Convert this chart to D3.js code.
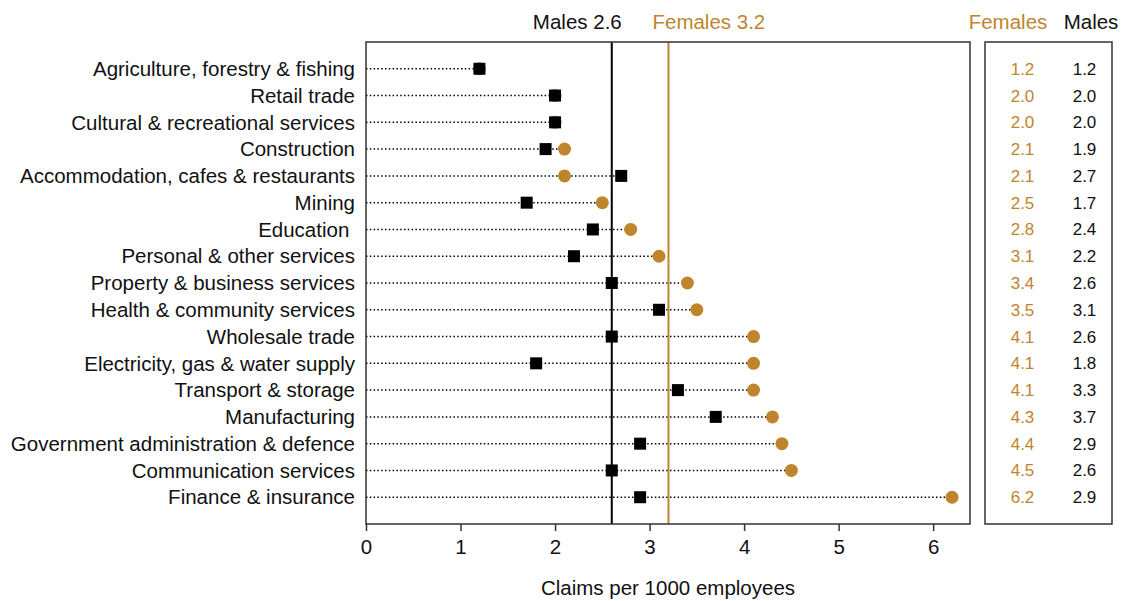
<!DOCTYPE html>
<html><head><meta charset="utf-8">
<script src="https://cdn.jsdelivr.net/npm/d3@7"></script>
<style>body{margin:0;background:#fff}svg{font-family:"Liberation Sans",Arial,sans-serif}</style>
</head><body><svg id="c" width="1121" height="601"></svg>
<script>
const categories = ["Agriculture, forestry & fishing","Retail trade","Cultural & recreational services","Construction","Accommodation, cafes & restaurants","Mining","Education ","Personal & other services","Property & business services","Health & community services","Wholesale trade","Electricity, gas & water supply","Transport & storage","Manufacturing","Government administration & defence","Communication services","Finance & insurance"];
const females = [1.2,2.0,2.0,2.1,2.1,2.5,2.8,3.1,3.4,3.5,4.1,4.1,4.1,4.3,4.4,4.5,6.2];
const males   = [1.2,2.0,2.0,1.9,2.7,1.7,2.4,2.2,2.6,3.1,2.6,1.8,3.3,3.7,2.9,2.6,2.9];
const avgMales = 2.6, avgFemales = 3.2;
const xTicks = [0,1,2,3,4,5,6];

const FC = "#BF852D", MC = "#000";
const FS = 20.5;
const svg = d3.select("#c");
const L = 366, R = 970, T = 42, B = 524;
const x = d3.scaleLinear().domain([0, 6.39]).range([L, R]);
const y = d3.scalePoint().domain(categories).range([T, B]).padding(1);

// category labels
svg.append("g").selectAll("text").data(categories).join("text")
  .attr("x", 355).attr("y", d => y(d)).attr("dy", "0.35em")
  .attr("text-anchor", "end").style("white-space","pre")
  .attr("font-size", FS).attr("fill", "#111").text(d => d);

// dotted lines
svg.append("g").selectAll("line").data(categories).join("line")
  .attr("x1", L).attr("x2", (d,i) => x(Math.max(females[i], males[i])))
  .attr("y1", d => y(d)).attr("y2", d => y(d))
  .attr("stroke", "#000").attr("stroke-width", 1.5).attr("stroke-dasharray", "1.5,2.3");

// reference lines
svg.append("line").attr("x1", x(avgMales)).attr("x2", x(avgMales)).attr("y1", T).attr("y2", B)
  .attr("stroke", MC).attr("stroke-width", 2);
svg.append("line").attr("x1", x(avgFemales)).attr("x2", x(avgFemales)).attr("y1", T).attr("y2", B)
  .attr("stroke", FC).attr("stroke-width", 2);
svg.append("text").attr("x", x(avgMales) + 10).attr("y", 29).attr("text-anchor", "end")
  .attr("font-size", FS).attr("fill", "#111").text("Males " + avgMales.toFixed(1));
svg.append("text").attr("x", x(avgFemales) - 16).attr("y", 29).attr("text-anchor", "start")
  .attr("font-size", FS).attr("fill", FC).text("Females " + avgFemales.toFixed(1));

// markers
svg.append("g").selectAll("circle").data(categories).join("circle")
  .attr("cx", (d,i) => x(females[i])).attr("cy", d => y(d)).attr("r", 6.5).attr("fill", FC);
svg.append("g").selectAll("rect").data(categories).join("rect")
  .attr("x", (d,i) => x(males[i]) - 6).attr("y", d => y(d) - 6)
  .attr("width", 12).attr("height", 12).attr("fill", MC);

// plot box
svg.append("rect").attr("x", L).attr("y", T).attr("width", R - L).attr("height", B - T)
  .attr("fill", "none").attr("stroke", "#333").attr("stroke-width", 1.5);

// x axis
const ax = svg.append("g").attr("transform", `translate(0,${B})`)
  .call(d3.axisBottom(x).tickValues(xTicks).tickSize(7).tickPadding(8).tickFormat(d3.format("d")));
ax.select(".domain").remove();
ax.selectAll("line").attr("stroke", "#333").attr("stroke-width", 1.5);
ax.selectAll("text").attr("font-size", FS).attr("fill", "#111").attr("font-family", "Liberation Sans, Arial, sans-serif");
svg.append("text").attr("x", (L + R) / 2).attr("y", 595).attr("text-anchor", "middle")
  .attr("font-size", FS).attr("fill", "#111").text("Claims per 1000 employees");

// right panel
const PL = 985, PR = 1112, fx = 1022.5, mx = 1084.5;
svg.append("rect").attr("x", PL).attr("y", T).attr("width", PR - PL).attr("height", B - T)
  .attr("fill", "none").attr("stroke", "#333").attr("stroke-width", 1.5);
svg.append("text").attr("x", 1008).attr("y", 29).attr("text-anchor", "middle")
  .attr("font-size", FS).attr("fill", FC).text("Females");
svg.append("text").attr("x", 1091).attr("y", 29).attr("text-anchor", "middle")
  .attr("font-size", FS).attr("fill", "#111").text("Males");
svg.append("g").selectAll("text").data(categories).join("text")
  .attr("x", fx).attr("y", d => y(d)).attr("dy", "0.35em").attr("text-anchor", "middle")
  .attr("font-size", 17).attr("fill", FC).text((d,i) => females[i].toFixed(1));
svg.append("g").selectAll("text").data(categories).join("text")
  .attr("x", mx).attr("y", d => y(d)).attr("dy", "0.35em").attr("text-anchor", "middle")
  .attr("font-size", 17).attr("fill", "#111").text((d,i) => males[i].toFixed(1));
</script></body></html>
